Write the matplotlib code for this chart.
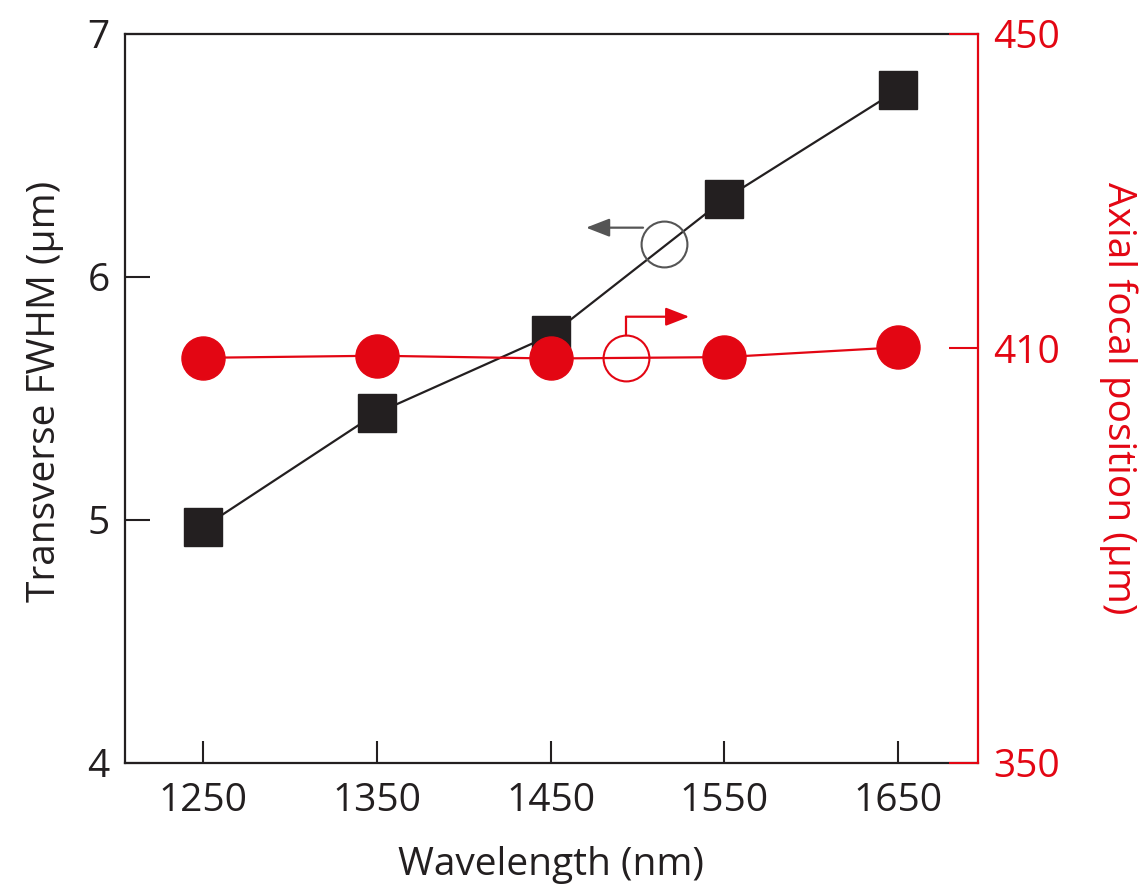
import numpy as np
import matplotlib
matplotlib.use("Agg")
import matplotlib.pyplot as plt
from matplotlib.patches import FancyArrowPatch

plt.rcParams['font.family'] = ['Open Sans', 'DejaVu Sans']

# Data
wavelength_nm = [1250, 1350, 1450, 1550, 1650]
fwhm_um = [4.97, 5.44, 5.76, 6.32, 6.77]
focal_pos_um = [408.6, 408.9, 408.5, 408.7, 410.1]

x_ticks = [1250, 1350, 1450, 1550, 1650]
left_ticks = [4, 5, 6, 7]
right_ticks = [350, 410, 450]

BLACK = '#231f20'
RED = '#e30613'
GRAY = '#555555'

fig = plt.figure(figsize=(11.43, 8.90), dpi=100)
ax = fig.add_axes([0.1094, 0.1427, 0.7462, 0.8191])
ax2 = ax.twinx()

# Right axis uses a piecewise-linear scale so that 410 sits where it is drawn
r_vals = np.array([350.0, 410.0, 450.0])
r_frac = np.array([0.0, 0.5691, 1.0])


def fwd(v):
    v = np.asarray(v, dtype=float)
    out = np.interp(v, r_vals, r_frac)
    lo = v < r_vals[0]
    hi = v > r_vals[-1]
    out = np.where(lo, (v - r_vals[0]) * (r_frac[1] - r_frac[0]) / (r_vals[1] - r_vals[0]), out)
    out = np.where(hi, 1 + (v - r_vals[-1]) * (r_frac[2] - r_frac[1]) / (r_vals[2] - r_vals[1]), out)
    return out


def inv(f):
    f = np.asarray(f, dtype=float)
    out = np.interp(f, r_frac, r_vals)
    lo = f < 0
    hi = f > 1
    out = np.where(lo, r_vals[0] + f * (r_vals[1] - r_vals[0]) / (r_frac[1] - r_frac[0]), out)
    out = np.where(hi, r_vals[-1] + (f - 1) * (r_vals[2] - r_vals[1]) / (r_frac[2] - r_frac[1]), out)
    return out


ax2.set_yscale('function', functions=(fwd, inv))

# Series
ax.plot(wavelength_nm, fwhm_um, color=BLACK, lw=1.6, marker='s', ms=28,
        mfc=BLACK, mec=BLACK, zorder=3)
ax2.plot(wavelength_nm, focal_pos_um, color=RED, lw=1.6, marker='o', ms=31,
         mfc=RED, mec=RED, zorder=3)

ax.set_xlim(1205, 1696)
ax.set_ylim(4, 7)
ax2.set_ylim(350, 450)

ax.set_xticks(x_ticks)
ax.set_yticks(left_ticks)
ax2.set_yticks(right_ticks)
ax2.yaxis.set_minor_locator(matplotlib.ticker.NullLocator())
ax2.set_yticklabels([str(t) for t in right_ticks])

ax.tick_params(axis='x', direction='in', length=16, width=1.5, color=BLACK,
               labelsize=28, pad=14, labelcolor=BLACK)
ax.tick_params(axis='y', direction='in', length=18, width=1.5, color=BLACK,
               labelsize=28, pad=11, labelcolor=BLACK)
ax2.tick_params(axis='y', direction='in', length=21, width=1.5, color=RED,
                labelsize=28, pad=11, labelcolor=RED)

for sp in ['left', 'bottom', 'top']:
    ax.spines[sp].set_color(BLACK)
    ax.spines[sp].set_linewidth(1.6)
ax.spines['right'].set_visible(False)
for sp in ['left', 'bottom', 'top']:
    ax2.spines[sp].set_visible(False)
ax2.spines['right'].set_color(RED)
ax2.spines['right'].set_linewidth(1.6)

ax.set_xlabel('Wavelength (nm)', fontsize=28, color=BLACK, va='center')
ax.set_ylabel('Transverse FWHM (µm)', fontsize=28, color=BLACK,
              va='center', ha='center', rotation_mode='anchor')
ax2.set_ylabel('Axial focal position (µm)', fontsize=28, color=RED,
               rotation=270, va='center', ha='center', rotation_mode='anchor')
ax.xaxis.set_label_coords(0.5, -0.14)
ax.yaxis.set_label_coords(-0.094, 0.51)
ax2.yaxis.set_label_coords(1.164, 0.5)

# Series indicators: open circles with arrows pointing to the matching axis
ax.plot([1515.3], [6.137], marker='o', ms=33, mfc='none', mec=GRAY, mew=1.5,
        zorder=4)
ax.add_patch(FancyArrowPatch((1503.2, 6.203), (1470.4, 6.203),
                             arrowstyle='-|>,head_length=0.9,head_width=0.35',
                             mutation_scale=16, color=GRAY, lw=1.6,
                             shrinkA=0, shrinkB=0, zorder=4))

red_cx, red_cy = 1493.5, 408.6
ax2.plot([red_cx], [red_cy], marker='o', ms=33, mfc='none', mec=RED, mew=1.5,
         zorder=4)
ax2.plot([red_cx, red_cx], [411.7, 414.0], color=RED, lw=1.6, zorder=4,
         solid_capstyle='projecting')
ax2.add_patch(FancyArrowPatch((red_cx, 414.0), (1529.8, 414.0),
                              arrowstyle='-|>,head_length=0.9,head_width=0.35',
                              mutation_scale=16, color=RED, lw=1.6,
                              shrinkA=0, shrinkB=0, zorder=4))

fig.savefig('out.png', dpi=100)
